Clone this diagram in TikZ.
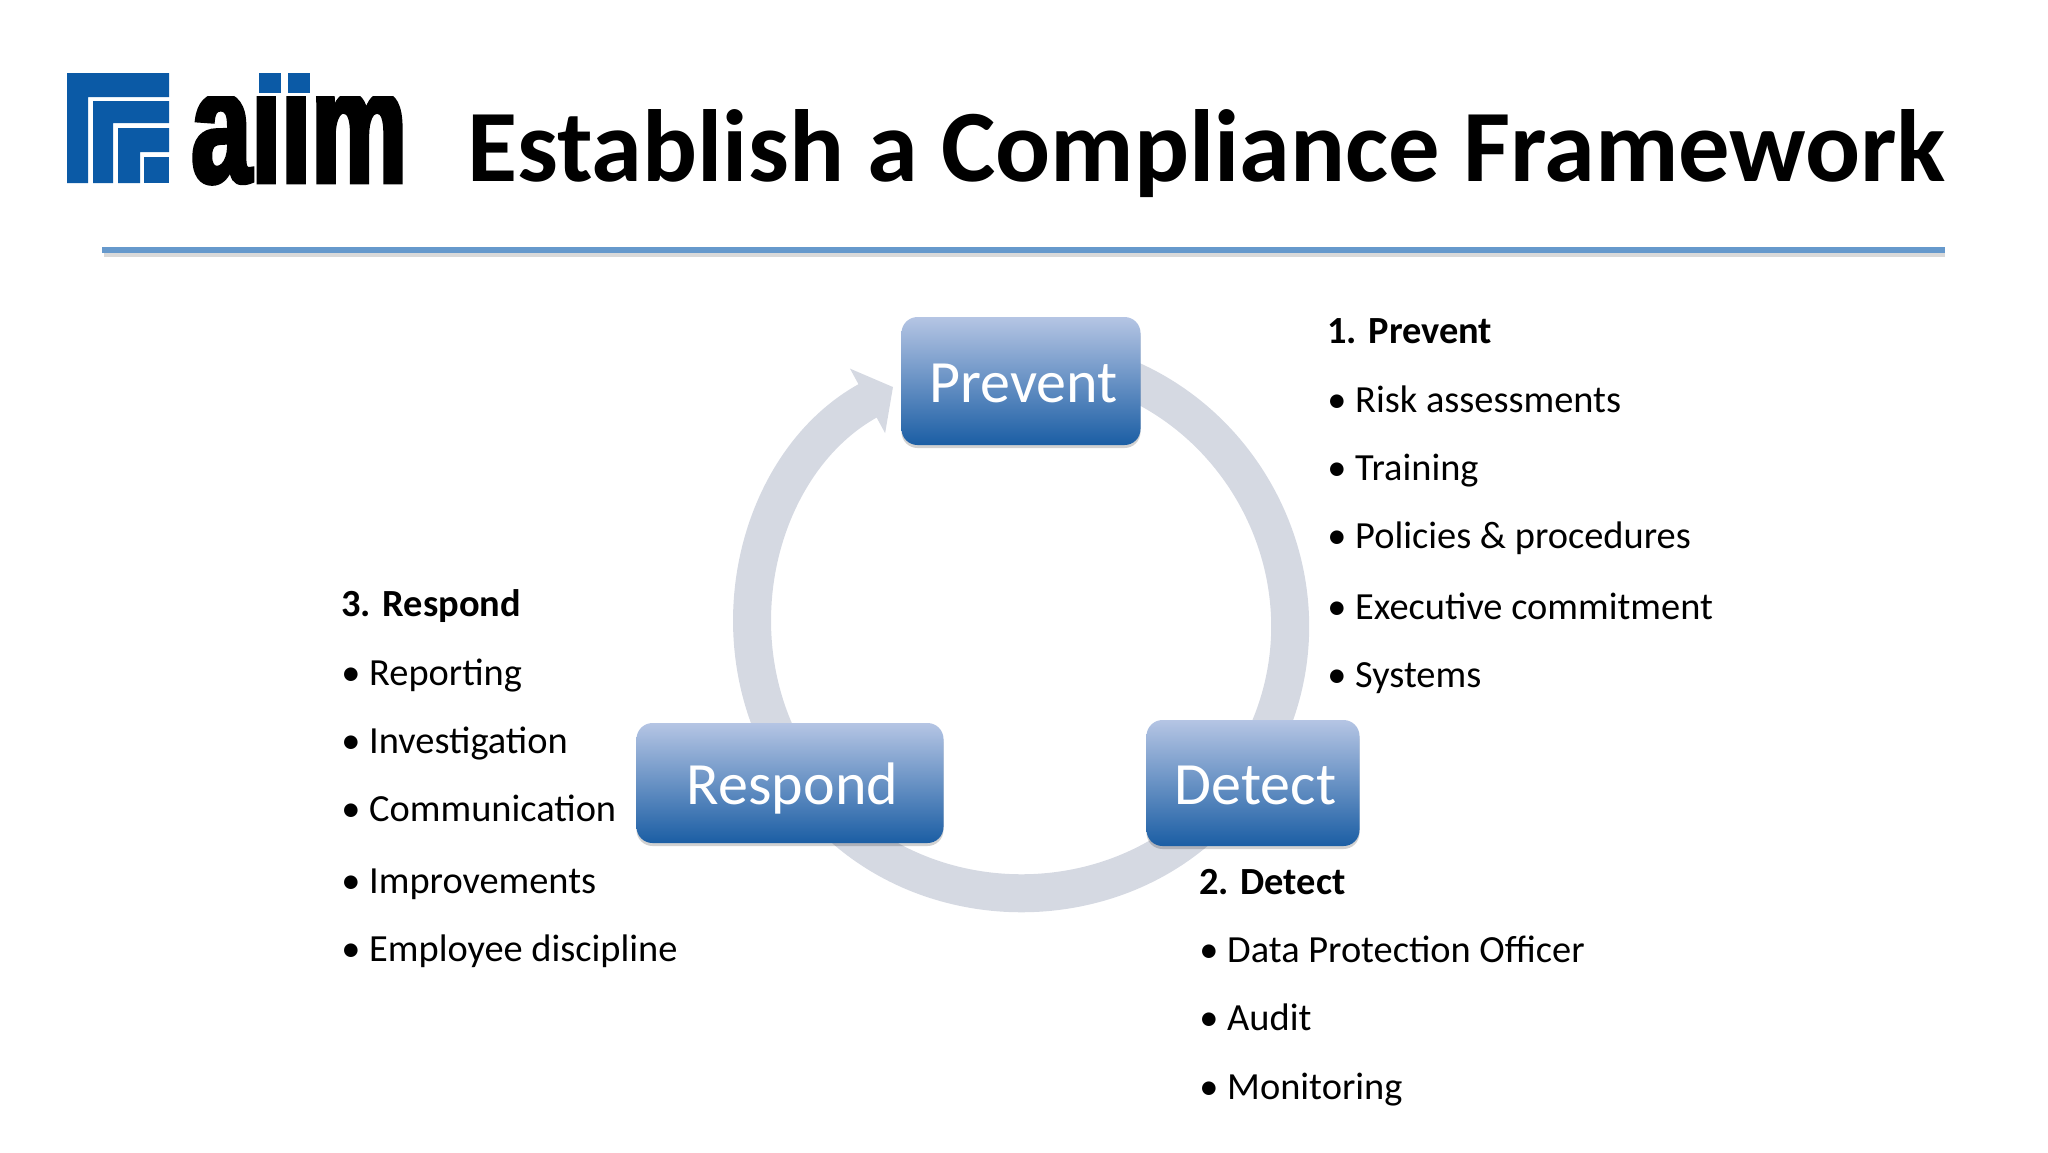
\documentclass[tikz,border=0pt]{standalone}
\usepackage{fontspec}
\usepackage{tikz}
\usetikzlibrary{arrows.meta,backgrounds,shadows}
\setmainfont{Carlito}
\newfontfamily\logofont[FakeBold=2.8,FakeStretch=0.665]{Liberation Sans Bold}
\definecolor{logoblue}{HTML}{0B5AA6}
\definecolor{ruleblue}{HTML}{6699CC}
\definecolor{ringgray}{HTML}{D5D9E2}
\definecolor{boxtop}{HTML}{B5C5E4}
\definecolor{boxbottom}{HTML}{1B5EA4}

\begin{document}
\begin{tikzpicture}[x=0.5pt, y=-0.5pt]
    \tikzstyle{stage} = [rectangle, rounded corners=8pt, top color=boxtop, bottom color=boxbottom, text=white, inner sep=0pt, text height=25pt, text depth=4pt, execute at begin node=\hspace*{2.5pt}, font=\fontsize{30}{30}\selectfont, drop shadow={shadow xshift=0pt, shadow yshift=-1.5pt, opacity=0.18, fill=black}]
    \tikzstyle{ringband} = [ringgray, line width=19pt]
    \tikzstyle{head} = [anchor=base west, inner sep=0pt, font=\fontsize{19.2}{19.2}\selectfont\bfseries]
    \tikzstyle{item} = [anchor=base west, inner sep=0pt, font=\fontsize{19.2}{19.2}\selectfont]
    \useasboundingbox (0,0) rectangle (2048,1152);

    % Logo
    \begin{scope}
        \clip (185,96) rectangle (415,185);
        \node[anchor=base west, inner sep=0pt, font=\logofont\fontsize{81}{81}\selectfont] (logotext) at (191,182) {aiim};
    \end{scope}
    \fill[logoblue] (67,73) -- (169,73) -- (169,97) -- (88,97) -- (88,183) -- (67,183) -- cycle;
    \fill[logoblue] (93,101) -- (169,101) -- (169,123) -- (113,123) -- (113,183) -- (93,183) -- cycle;
    \fill[logoblue] (118,128) -- (169,128) -- (169,152) -- (140,152) -- (140,183) -- (118,183) -- cycle;
    \fill[logoblue] (144,157) rectangle (169,183);
    \fill[logoblue] (259,73) rectangle (281,93);
    \fill[logoblue] (288,73) rectangle (310,93);

    % Title and rule
    \node[anchor=base west, inner sep=0pt, font=\fontsize{51.3}{51.3}\selectfont\bfseries] (title) at (467,181) {Establish a Compliance Framework};
    \coordinate (ruleleft) at (102,250);
    \coordinate (ruleright) at (1945,250);
    \draw[black!15, line width=2.5pt] ([shift={(2,4)}]ruleleft) -- ([shift={(0,4)}]ruleright);
    \draw[ruleblue, line width=3pt] (ruleleft) -- (ruleright);

    % Stages
    \node[stage, minimum width=119.5pt, minimum height=64pt] (prevent) at (1021,381) {Prevent};
    \node[stage, minimum width=106.5pt, minimum height=63pt] (detect) at (1253,783) {Detect};
    \node[stage, minimum width=153.5pt, minimum height=60pt] (respond) at (790,783) {Respond};
    \coordinate (tip) at (893,387);

    % Ring behind the stages
    \begin{scope}[on background layer]
        \draw[ringband] ([shift={(0,-24)}]prevent.center) to[bend left=60.5, looseness=1.14] ([shift={(-1,-20)}]detect.center);
        \draw[ringband] ([shift={(-1,-20)}]detect.center) to[bend left=60.5, looseness=1.11] ([shift={(1,-20)}]respond.center);
        \draw[ringband, -{Triangle[width=36pt, length=14.5pt]}] ([shift={(1,-20)}]respond.center) to[bend left=46.25] (tip);
    \end{scope}

    % Lists
    \node[head] (preventhead) at (1327,343) {1. Prevent};
    \foreach \name/\y/\txt in {pa/412/Risk assessments, pb/480/Training, pc/548/Policies \& procedures, pd/619/Executive commitment, pe/687/Systems} {
        \node[item] (\name) at (1327,\y) {• \txt};
    }
    \node[head] (detecthead) at (1199,894) {2. Detect};
    \foreach \name/\y/\txt in {da/962/Data Protection Officer, db/1030/Audit, dc/1099/Monitoring} {
        \node[item] (\name) at (1199,\y) {• \txt};
    }
    \node[head] (respondhead) at (341,616) {3. Respond};
    \foreach \name/\y/\txt in {ra/685/Reporting, rb/753/Investigation, rc/821/Communication, rd/893/Improvements, re/961/Employee discipline} {
        \node[item] (\name) at (341,\y) {• \txt};
    }
\end{tikzpicture}
\end{document}
